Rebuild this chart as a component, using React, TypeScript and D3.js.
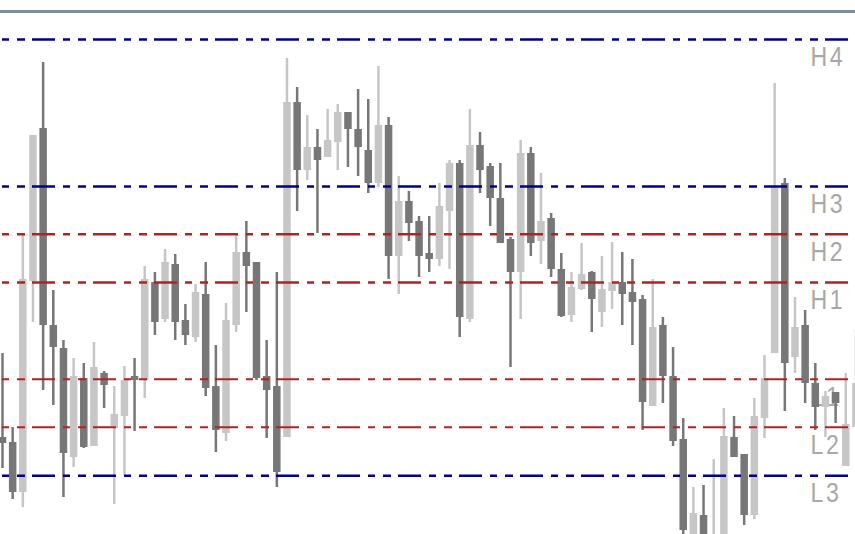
import React from "react";
import * as d3 from "d3";

// OHLC values per bar (index order, left to right)
const opens = [1.2039,1.2034,1.1984,1.2195,1.2348,1.2151,1.2128,1.2019,1.2098,1.2030,1.2103,1.2048,1.2060,1.2100,1.2096,1.2194,1.2157,1.2212,1.2156,1.2139,1.2182,1.2090,1.2043,1.2151,1.2224,1.2214,1.2100,1.2090,1.2039,1.2374,1.2306,1.2329,1.2319,1.2334,1.2364,1.2347,1.2326,1.2293,1.2351,1.2220,1.2275,1.2255,1.2223,1.2217,1.2265,1.2313,1.2157,1.2331,1.2310,1.2278,1.2237,1.2204,1.2323,1.2235,1.2258,1.2207,1.2161,1.2187,1.2204,1.2164,1.2185,1.2194,1.2184,1.2177,1.2070,1.2151,1.2100,1.2037,1.1936,1.1961,1.1916,1.1931,1.2039,1.2022,1.1961,1.2058,1.2123,1.2293,1.2119,1.2151,1.2093,1.2069,1.2084,1.2010,1.2049];
const highs = [1.2123,1.2049,1.2241,1.2341,1.2414,1.2186,1.2136,1.2118,1.2113,1.2134,1.2105,1.2090,1.2110,1.2118,1.2210,1.2204,1.2227,1.2222,1.2172,1.2192,1.2214,1.2131,1.2173,1.2241,1.2255,1.2214,1.2136,1.2204,1.2418,1.2389,1.2361,1.2347,1.2367,1.2372,1.2364,1.2387,1.2377,1.2410,1.2359,1.2300,1.2285,1.2260,1.2260,1.2293,1.2316,1.2316,1.2367,1.2344,1.2313,1.2313,1.2239,1.2336,1.2329,1.2303,1.2263,1.2223,1.2204,1.2233,1.2205,1.2220,1.2234,1.2224,1.2217,1.2181,1.2197,1.2159,1.2129,1.2058,1.1989,1.1991,1.2017,1.2068,1.2060,1.2022,1.2078,1.2121,1.2393,1.2298,1.2179,1.2166,1.2113,1.2085,1.2084,1.2103,1.2146];
const lows = [1.2008,1.1977,1.1969,1.2154,1.2086,1.2071,1.1979,1.2009,1.2028,1.2030,1.2068,1.1972,1.2001,1.2045,1.2078,1.2141,1.2154,1.2136,1.2131,1.2134,1.2080,1.2024,1.2035,1.2144,1.2164,1.2096,1.2038,1.1989,1.2039,1.2265,1.2296,1.2243,1.2319,1.2306,1.2309,1.2300,1.2283,1.2289,1.2197,1.2182,1.2235,1.2199,1.2204,1.2210,1.2207,1.2139,1.2154,1.2283,1.2250,1.2233,1.2109,1.2157,1.2220,1.2212,1.2199,1.2159,1.2154,1.2186,1.2144,1.2149,1.2167,1.2151,1.2131,1.2046,1.2070,1.2073,1.2030,1.1938,1.1928,1.1928,1.1911,1.1921,1.2019,1.1951,1.1957,1.2038,1.2123,1.2065,1.2103,1.2073,1.2046,1.2039,1.2053,1.2010,1.2049];
const closes = [1.2033,1.1984,1.2197,1.2341,1.2151,1.2129,1.2023,1.2100,1.2029,1.2109,1.2091,1.2062,1.2096,1.2096,1.2197,1.2154,1.2214,1.2154,1.2141,1.2184,1.2088,1.2046,1.2156,1.2224,1.2210,1.2098,1.2086,1.2004,1.2374,1.2306,1.2329,1.2316,1.2336,1.2364,1.2347,1.2329,1.2293,1.2351,1.2220,1.2275,1.2253,1.2220,1.2217,1.2270,1.2313,1.2159,1.2331,1.2306,1.2278,1.2233,1.2204,1.2323,1.2233,1.2255,1.2207,1.2160,1.2189,1.2202,1.2177,1.2187,1.2194,1.2182,1.2174,1.2074,1.2149,1.2100,1.2035,1.1946,1.1963,1.1936,1.1938,1.2040,1.2019,1.1961,1.2060,1.2098,1.2289,1.2113,1.2149,1.2093,1.2069,1.2080,1.2073,1.2052,1.2093];

// Pivot levels
const levelNames = ["H4", "H3", "H2", "H1", "L1", "L2", "L3"];
const levelValues = [1.24365, 1.22895, 1.22417, 1.21935, 1.20967, 1.20487, 1.20002];
const levelColors = ["#00008b", "#00008b", "#b22222", "#b22222", "#b22222", "#b22222", "#00008b"];
const levelWidths = [2.5, 2.5, 2.5, 2.5, 2, 2, 2.5];

const W = 855;
const H = 534;

export default function App() {
  const n = opens.length;
  const x = d3.scaleLinear().domain([0, 84]).range([2.5, 2.5 + 84 * 10.16]);
  const y = d3.scaleLinear().domain([1.2, 1.2476]).range([476, 0]);
  const bodyW = 7.5;
  const up = "#c6c6c6";
  const down = "#777777";

  const bars = d3.range(n).map((i) => {
    const o = opens[i], c = closes[i], h = highs[i], l = lows[i];
    const col = c >= o ? up : down;
    const top = y(Math.max(o, c));
    const bh = Math.max(2, Math.abs(y(o) - y(c)));
    return (
      <g key={i}>
        <line x1={x(i)} x2={x(i)} y1={y(h)} y2={y(l)} stroke={col} strokeWidth={2.5} />
        <rect x={x(i) - bodyW / 2} y={top} width={bodyW} height={bh} fill={col} />
      </g>
    );
  });

  return (
    <svg
      width={W}
      height={H}
      style={{ position: "absolute", left: 0, top: 0, background: "#ffffff", display: "block" }}
    >
      <rect x={0} y={0} width={W} height={H} fill="#ffffff" />
      <rect x={0} y={10} width={W} height={3} fill="#808d99" />
      {levelNames.map((name, k) => (
        <text
          key={name}
          transform={`translate(810.5,${y(levelValues[k]) + 26.5}) scale(0.86,1)`}
          fontFamily="'Liberation Sans', Arial, sans-serif"
          fontSize={27}
          letterSpacing={3}
          fill="#a8a8a8"
        >
          {name}
        </text>
      ))}
      {bars}
      {levelNames.map((name, k) => (
        <line
          key={"l" + name}
          x1={0}
          x2={W}
          y1={y(levelValues[k])}
          y2={y(levelValues[k])}
          stroke={levelColors[k]}
          strokeWidth={levelWidths[k]}
          strokeDasharray="23,8,7,8,8,7"
          strokeDashoffset={29}
        />
      ))}
    </svg>
  );
}
